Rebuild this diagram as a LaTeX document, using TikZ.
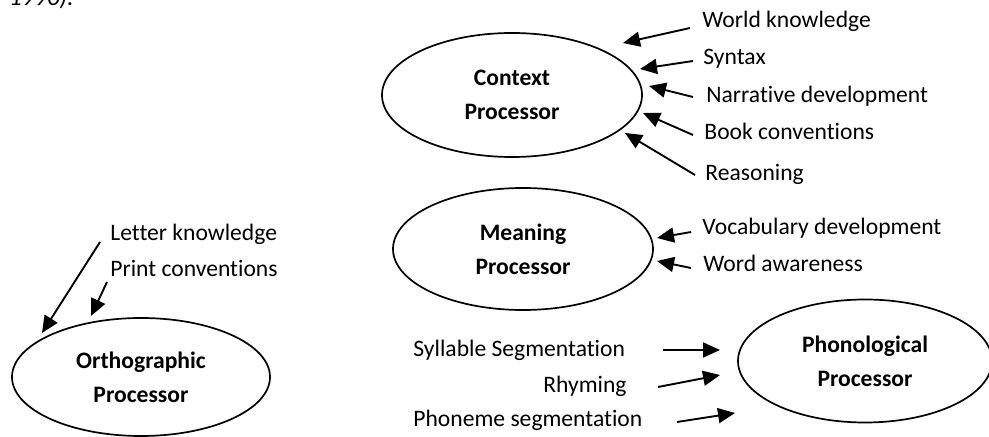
\documentclass[tikz,border=0pt]{standalone}
\usepackage{fontspec}
\setmainfont{Carlito}[Ligatures={NoCommon}]
\usetikzlibrary{shapes.geometric,arrows.meta}
\tikzset{
  proc/.style={draw, ellipse, line width=0.85pt, inner sep=0pt, align=center,
    font=\bfseries\fontsize{11.8}{17}\selectfont},
  lab/.style={inner sep=0pt, font=\fontsize{11.8}{14}\selectfont},
  arr/.style={line width=0.95pt, -{Triangle[length=8.5pt,width=7.5pt]}}
}
\begin{document}
\begin{tikzpicture}[x=0.5pt,y=-0.5pt]
\useasboundingbox (0,0) rectangle (989,437);
% fragment of preceding text
\node[lab, anchor=base east, font=\itshape\fontsize{12.5}{14}\selectfont] (frag) at (74,6) {1990).};
% processors
\node[proc, minimum width=130pt, minimum height=62pt] (ctx) at (512,95) {Context\\Processor};
\node[proc, minimum width=130pt, minimum height=61pt] (mean) at (523,249) {Meaning\\Processor};
\node[proc, minimum width=127pt, minimum height=61.5pt] (phon) at (865,361) {Phonological\\Processor};
\node[proc, minimum width=129pt, minimum height=59pt] (orth) at (141,377) {Orthographic\\Processor};
% context labels
\node[lab, anchor=base west] (wk) at (702,28) {World knowledge};
\node[lab, anchor=base west] (syn) at (703,65) {Syntax};
\node[lab, anchor=base west] (nar) at (706,103) {Narrative development};
\node[lab, anchor=base west] (book) at (704,140) {Book conventions};
\node[lab, anchor=base west] (reas) at (705,181) {Reasoning};
% meaning labels
\node[lab, anchor=base west] (voc) at (702,235) {Vocabulary development};
\node[lab, anchor=base west] (word) at (703,272) {Word awareness};
% phonological labels
\node[lab, anchor=base west] (syl) at (413,357) {Syllable Segmentation};
\node[lab, anchor=base east] (rhy) at (627,393) {Rhyming};
\node[lab, anchor=base west] (pho) at (413,427) {Phoneme segmentation};
% orthographic labels
\node[lab, anchor=base west] (let) at (110,241) {Letter knowledge};
\node[lab, anchor=base west] (pri) at (110,277) {Print conventions};
% arrow end points
\coordinate (wkS) at (690,28);   \coordinate (wkE) at (623,43);
\coordinate (synS) at (693,61);  \coordinate (synE) at (640,69);
\coordinate (narS) at (693,97);  \coordinate (narE) at (649,86);
\coordinate (bookS) at (693,135);\coordinate (bookE) at (643,113);
\coordinate (reasS) at (695,175);\coordinate (reasE) at (625,133);
\coordinate (vocS) at (691,232); \coordinate (vocE) at (657,238);
\coordinate (wordS) at (691,268);\coordinate (wordE) at (657,261);
\coordinate (sylS) at (663,350); \coordinate (sylE) at (720,350);
\coordinate (rhyS) at (658,387); \coordinate (rhyE) at (720,375);
\coordinate (phoS) at (677,422); \coordinate (phoE) at (735,413);
\coordinate (letS) at (100,242); \coordinate (letE) at (42,333);
\coordinate (priS) at (107,282); \coordinate (priE) at (91,316);
% arrows
\draw[arr] (wkS) -- (wkE);
\draw[arr] (synS) -- (synE);
\draw[arr] (narS) -- (narE);
\draw[arr] (bookS) -- (bookE);
\draw[arr] (reasS) -- (reasE);
\draw[arr] (vocS) -- (vocE);
\draw[arr] (wordS) -- (wordE);
\draw[arr] (sylS) -- (sylE);
\draw[arr] (rhyS) -- (rhyE);
\draw[arr] (phoS) -- (phoE);
\draw[arr] (letS) -- (letE);
\draw[arr] (priS) -- (priE);
\end{tikzpicture}
\end{document}
